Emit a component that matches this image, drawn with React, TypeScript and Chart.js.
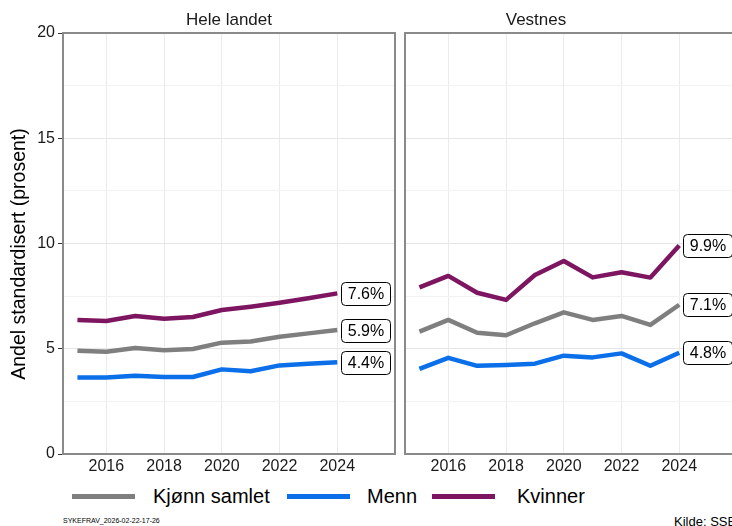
import React, { useEffect, useRef } from 'react';
import { Chart, registerables } from 'chart.js';

Chart.register(...registerables);

// ---------- data ----------
const years = [2015, 2016, 2017, 2018, 2019, 2020, 2021, 2022, 2023, 2024];
const xTickValues = [2016, 2018, 2020, 2022, 2024];
const yTickValues = [0, 2.5, 5, 7.5, 10, 12.5, 15, 17.5, 20];
const seriesNames = ['Kjønn samlet', 'Menn', 'Kvinner'];
const seriesColors = ['#7f7f7f', '#0a6fe8', '#7d1560'];

const heleKjonn = [4.91, 4.86, 5.04, 4.93, 4.99, 5.29, 5.34, 5.57, 5.73, 5.89];
const heleMenn = [3.64, 3.63, 3.72, 3.66, 3.66, 4.02, 3.93, 4.21, 4.29, 4.36];
const heleKvinner = [6.37, 6.32, 6.56, 6.43, 6.51, 6.84, 7.0, 7.19, 7.4, 7.63];
const heleLabels = ['5.9%', '4.4%', '7.6%'];

const vestKjonn = [5.81, 6.37, 5.76, 5.64, 6.21, 6.73, 6.37, 6.56, 6.13, 7.09];
const vestMenn = [4.04, 4.57, 4.19, 4.23, 4.29, 4.67, 4.59, 4.78, 4.19, 4.81];
const vestKvinner = [7.92, 8.46, 7.66, 7.32, 8.5, 9.17, 8.39, 8.63, 8.38, 9.9];
const vestLabels = ['7.1%', '4.8%', '9.9%'];

const yTitle = 'Andel standardisert (prosent)';

const FONT = '"Liberation Sans", Arial, Helvetica, sans-serif';

type PanelProps = {
  series: number[][];
  labels: string[];
  showY: boolean;
  yWidth: number;
  width: number;
  height: number;
  left: number;
};

function Panel({ series, labels, showY, yWidth, width, height, left }: PanelProps) {
  const ref = useRef<HTMLCanvasElement | null>(null);

  useEffect(() => {
    if (!ref.current) return;
    const deco = {
      id: 'deco',
      afterDatasetsDraw(chart: any) {
        const ctx = chart.ctx;
        const area = chart.chartArea;
        ctx.save();
        // panel border
        ctx.strokeStyle = '#8a8a8a';
        ctx.lineWidth = 2;
        ctx.strokeRect(area.left, area.top, area.right - area.left, area.bottom - area.top);
        // y title
        if (showY) {
          ctx.save();
          ctx.translate(20, 254);
          ctx.rotate(-Math.PI / 2);
          ctx.font = `19.5px ${FONT}`;
          ctx.fillStyle = '#000000';
          ctx.textAlign = 'center';
          ctx.textBaseline = 'middle';
          ctx.fillText(yTitle, 0, 0);
          ctx.restore();
        }
        // end labels
        ctx.font = `16px ${FONT}`;
        chart.data.datasets.forEach((ds: any, i: number) => {
          const meta = chart.getDatasetMeta(i);
          const pt = meta.data[meta.data.length - 1];
          const text = labels[i];
          const tw = ctx.measureText(text).width;
          const w = Math.round(tw + 13);
          const h = 23;
          const x0 = Math.round(pt.x + 4) + 0.5;
          const y0 = Math.round(pt.y - h / 2) + 0.5;
          ctx.beginPath();
          (ctx as any).roundRect(x0, y0, w, h, 4);
          ctx.fillStyle = '#ffffff';
          ctx.fill();
          ctx.strokeStyle = '#000000';
          ctx.lineWidth = 1;
          ctx.stroke();
          ctx.fillStyle = '#000000';
          ctx.textAlign = 'center';
          ctx.textBaseline = 'middle';
          ctx.fillText(text, x0 + w / 2, y0 + h / 2 + 1);
        });
        ctx.restore();
      },
    };

    const chart = new Chart(ref.current, {
      type: 'line',
      data: {
        datasets: series.map((vals, i) => ({
          label: seriesNames[i],
          data: years.map((yr, j) => ({ x: yr, y: vals[j] })),
          borderColor: seriesColors[i],
          backgroundColor: seriesColors[i],
          borderWidth: 4.5,
          pointRadius: 0,
          tension: 0,
          borderCapStyle: 'butt',
          borderJoinStyle: 'round',
        })),
      },
      options: {
        responsive: false,
        devicePixelRatio: 1,
        animation: false,
        events: [],
        layout: { padding: { top: 33, right: 2, left: 0, bottom: 0 } },
        plugins: { legend: { display: false }, tooltip: { enabled: false }, title: { display: false } },
        scales: {
          x: {
            type: 'linear',
            min: 2014.5,
            max: 2026,
            afterBuildTicks: (s: any) => {
              s.ticks = xTickValues.map((v) => ({ value: v }));
            },
            afterFit: (s: any) => {
              s.height = 26;
            },
            ticks: {
              font: { family: FONT, size: 16 },
              color: '#1a1a1a',
              padding: 3,
              maxRotation: 0,
              autoSkip: false,
              callback: (v: any) => String(v),
            },
            grid: { color: '#ebebeb', lineWidth: 1, drawTicks: false },
            border: { display: false },
          },
          y: {
            type: 'linear',
            min: 0,
            max: 20,
            afterBuildTicks: (s: any) => {
              s.ticks = yTickValues.map((v) => ({ value: v }));
            },
            afterFit: (s: any) => {
              s.width = yWidth;
            },
            ticks: {
              display: showY,
              font: { family: FONT, size: 16 },
              color: '#1a1a1a',
              padding: 3,
              autoSkip: false,
              callback: (v: any) => (Number(v) % 5 === 0 ? String(v) : ''),
            },
            grid: {
              color: (c: any) => (c.tick && c.tick.value % 5 === 0 ? '#e6e6e6' : '#f2f2f2'),
              tickColor: (c: any) => (c.tick && c.tick.value % 5 === 0 ? '#333333' : 'rgba(0,0,0,0)'),
              lineWidth: 1,
              drawTicks: showY,
              tickLength: 5,
            },
            border: { display: false },
            title: { display: false },
          },
        },
      } as any,
      plugins: [deco],
    });
    return () => chart.destroy();
  }, []);

  return (
    <canvas
      ref={ref}
      width={width}
      height={height}
      style={{ position: 'absolute', left, top: 0, width, height }}
    />
  );
}

export default function App() {
  const legendItems = [
    { name: seriesNames[0], color: seriesColors[0], lx: 72, tx: 153 },
    { name: seriesNames[1], color: seriesColors[1], lx: 287, tx: 367 },
    { name: seriesNames[2], color: seriesColors[2], lx: 432, tx: 517 },
  ];
  return (
    <div
      style={{
        position: 'fixed',
        left: 0,
        top: 0,
        width: 732,
        height: 526,
        overflow: 'hidden',
        background: '#ffffff',
        fontFamily: FONT,
      }}
    >
      <Panel
        series={[heleKjonn, heleMenn, heleKvinner]}
        labels={heleLabels}
        showY={true}
        yWidth={63}
        width={397}
        height={480}
        left={0}
      />
      <Panel
        series={[vestKjonn, vestMenn, vestKvinner]}
        labels={vestLabels}
        showY={false}
        yWidth={10}
        width={344}
        height={480}
        left={395}
      />
      <div style={{ position: 'absolute', left: 129, width: 200, top: 9, textAlign: 'center', fontSize: 17, lineHeight: '22px', color: '#1a1a1a' }}>
        Hele landet
      </div>
      <div style={{ position: 'absolute', left: 436, width: 200, top: 9, textAlign: 'center', fontSize: 17, lineHeight: '22px', color: '#1a1a1a' }}>
        Vestnes
      </div>
      {legendItems.map((it) => (
        <React.Fragment key={it.name}>
          <div style={{ position: 'absolute', left: it.lx, top: 494, width: 63, height: 5, background: it.color }} />
          <div style={{ position: 'absolute', left: it.tx, top: 484, fontSize: 20, lineHeight: '24px', color: '#000', whiteSpace: 'nowrap' }}>
            {it.name}
          </div>
        </React.Fragment>
      ))}
      <div style={{ position: 'absolute', left: 63, top: 516, fontSize: 7, lineHeight: '9px', color: '#000', whiteSpace: 'nowrap' }}>
        SYKEFRAV_2026-02-22-17-26
      </div>
      <div style={{ position: 'absolute', left: 674, top: 514, fontSize: 13, lineHeight: '16px', color: '#000', whiteSpace: 'nowrap' }}>
        Kilde: SSB
      </div>
    </div>
  );
}
